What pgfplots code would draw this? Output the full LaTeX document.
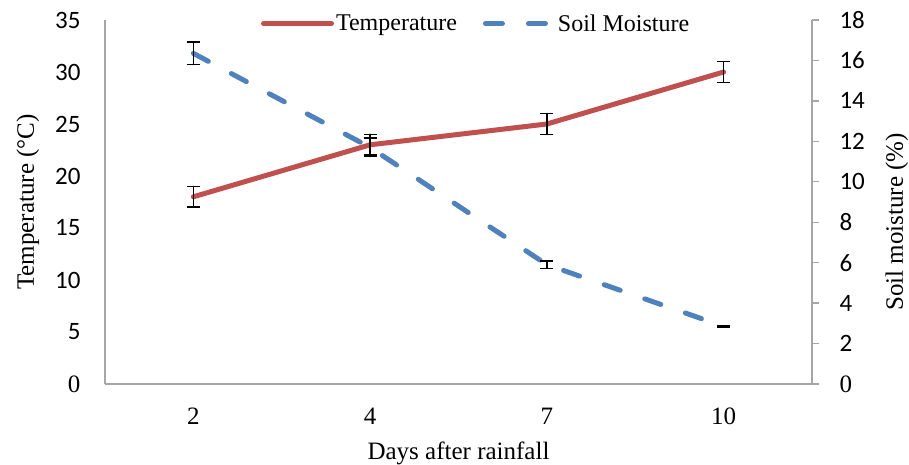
\documentclass[border=0pt]{standalone}
\usepackage{fontspec}
\setmainfont{Liberation Serif}
\newfontfamily\calib{Carlito}
\usepackage{pgfplots}
\pgfplotsset{compat=1.18}
\definecolor{tred}{HTML}{C0504D}
\definecolor{sblue}{HTML}{4F81BD}
\definecolor{axgray}{HTML}{A6A6A6}
\begin{document}
\begin{tikzpicture}
\pgfplotsset{
  errstyle/.style={
    error bars/y dir=both, error bars/y explicit,
    error bars/error bar style={black, line width=1.6pt, solid},
    error bars/error mark options={rotate=90, black, mark size=6.5pt, line width=1.6pt, solid}},
  tstyle/.style={tred, line width=5pt, line cap=round, no marks},
  sstyle/.style={sblue, line width=5pt, line cap=round, dash pattern=on 17pt off 26pt, no marks},
}
\begin{axis}[name=ax, scale only axis, width=707pt, height=364pt,
  xmin=-0.5, xmax=3.5, ymin=0, ymax=35,
  axis x line*=bottom, axis y line*=left,
  axis line style={axgray, line width=1.3pt, -},
  xtick={0,1,2,3}, xticklabels={2,4,7,10},
  ytick={0,5,10,15,20,25,30,35},
  yticklabels={{\fontsize{25}{30}\selectfont 0},{\calib 5},{\calib 10},{\calib 15},{\calib 20},{\calib 25},{\calib 30},{\calib 35}},
  major tick length=0pt,
  tick label style={font=\fontsize{25}{30}\selectfont},
  xticklabel style={anchor=base, yshift=-40pt},
  yticklabel style={anchor=east, xshift=-21pt},
  xlabel={Days after rainfall},
  ylabel={Temperature (°C)},
  label style={font=\fontsize{25}{30}\selectfont},
  xlabel style={at={(axis description cs:0.5,0)}, anchor=center, yshift=-69pt},
  ylabel style={at={(axis description cs:-0.109,0.5)}, anchor=center},
  legend style={draw=none, fill=none, at={(0.525,0.99)}, anchor=center,
    legend columns=2, font=\fontsize{24}{28}\selectfont,
    /tikz/every even column/.append style={column sep=24pt}},
  legend image code/.code={\draw[#1] (0pt,0pt) -- (68pt,0pt);},
  clip=false,
]
\addplot[tstyle, errstyle] coordinates {
  (0,18) +- (0,1)
  (1,23) +- (0,1)
  (2,25) +- (0,1)
  (3,30) +- (0,1)
};
\addlegendentry{Temperature}
\addlegendimage{sstyle}
\addlegendentry{Soil Moisture}
\end{axis}
\begin{axis}[scale only axis, width=707pt, height=364pt,
  xmin=-0.5, xmax=3.5, ymin=0, ymax=18,
  axis x line=none, axis y line*=right,
  axis line style={axgray, line width=1.3pt, -},
  ytick={0,2,4,6,8,10,12,14,16,18},
  yticklabels={{\fontsize{25}{30}\selectfont 0},{\calib 2},{\calib 4},{\calib 6},{\calib 8},{\calib 10},{\calib 12},{\calib 14},{\calib 16},{\calib 18}},
  tick align=outside, major tick length=7pt,
  tick style={axgray, line width=1.3pt},
  tick label style={font=\fontsize{25}{30}\selectfont},
  yticklabel style={anchor=west, xshift=17pt},
  ylabel={Soil moisture (\%)},
  label style={font=\fontsize{25}{30}\selectfont},
  ylabel style={at={(axis description cs:1.12,0.445)}, anchor=center},
  clip=false,
]
\addplot[sstyle, errstyle] coordinates {
  (0,16.35) +- (0,0.55)
  (1,11.7) +- (0,0.45)
  (2,5.9) +- (0,0.18)
  (3,2.85) +- (0,0.03)
};
\end{axis}
\pgfresetboundingbox
\path (ax.south west) ++(-105pt,-81pt) rectangle ++(909pt,465pt);
\end{tikzpicture}
\end{document}
